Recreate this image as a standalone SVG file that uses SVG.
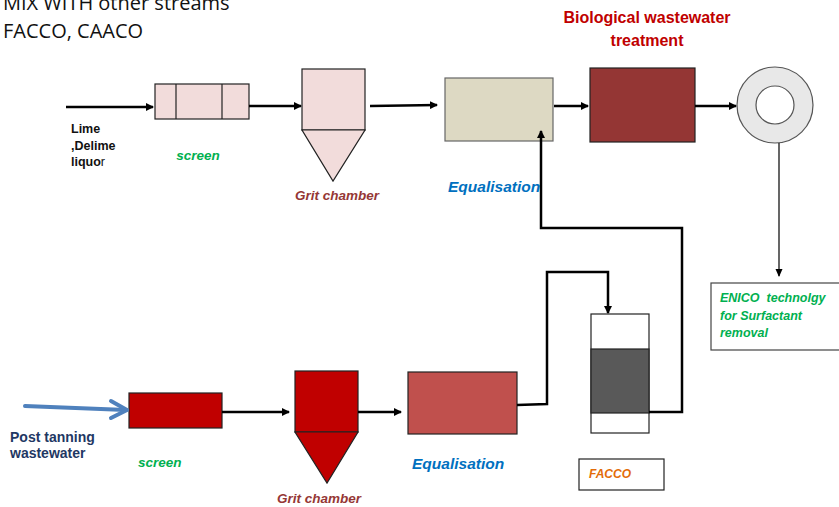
<svg xmlns="http://www.w3.org/2000/svg" width="839" height="507" viewBox="0 0 839 507">
<defs>
<marker id="ah" markerWidth="8" markerHeight="8" refX="7" refY="4" orient="auto" markerUnits="userSpaceOnUse">
<path d="M0,0 L8,4 L0,8 Z" fill="#000"/>
</marker>
<marker id="ahs" markerWidth="8" markerHeight="8" refX="7" refY="4" orient="auto" markerUnits="userSpaceOnUse">
<path d="M0,0.5 L8,4 L0,7.5 Z" fill="#000"/>
</marker>
</defs>
<style>
text{font-family:"Liberation Sans",Arial,sans-serif}
.title{font-family:"Open Sans","Liberation Sans",sans-serif;font-size:20px;fill:#111}
.lbl{font-weight:bold;font-style:italic;font-size:13.5px}
.green{fill:#00B050}
.grit{fill:#953735}
.eq{fill:#0070C0;font-size:15.5px}
.flow{fill:none;stroke:#000;stroke-width:2.5}
.thin{fill:none;stroke:#000;stroke-width:1.2}
.box{stroke:#222;stroke-width:1.2}
</style>
<rect width="839" height="507" fill="#fff"/>
<g id="title">
<text class="title" x="3" y="10">MIX WITH other streams</text>
<text class="title" x="3" y="38">FACCO, CAACO</text>
</g>
<g id="bio-label">
<text x="647" y="23" text-anchor="middle" font-weight="bold" font-size="16" fill="#C00000">Biological wastewater</text>
<text x="647" y="46" text-anchor="middle" font-weight="bold" font-size="16" fill="#C00000">treatment</text>
</g>
<g id="lime-label">
<text x="71" y="133" font-weight="bold" font-size="12.5" fill="#111">Lime</text>
<text x="71" y="150" font-weight="bold" font-size="12.5" fill="#111">,Delime</text>
<text x="71" y="166" font-weight="bold" font-size="12.5" fill="#111">liquo<tspan font-weight="normal">r</tspan></text>
</g>
<g id="screen1">
<rect class="box" x="155" y="84" width="94" height="35" fill="#F2DCDB"/>
<line class="box" x1="176" y1="84" x2="176" y2="119"/>
<line class="box" x1="222" y1="84" x2="222" y2="119"/>
<text class="lbl green" x="198" y="160" text-anchor="middle">screen</text>
</g>
<g id="grit1">
<rect class="box" x="302" y="69" width="63" height="61" fill="#F2DCDB"/>
<polygon class="box" points="302,130 365,130 333,181" fill="#F2DCDB"/>
<text class="lbl grit" x="295" y="200">Grit chamber</text>
</g>
<g id="eq1">
<rect x="445" y="78" width="108" height="63" fill="#DDD9C3" stroke="#666" stroke-width="1.2"/>
<text class="lbl eq" x="448" y="192">Equalisation</text>
</g>
<g id="bio">
<rect class="box" x="590" y="68" width="105" height="74" fill="#943634"/>
</g>
<g id="clarifier">
<circle cx="775" cy="105" r="38" fill="#E8E8E8" stroke="#555" stroke-width="1.2"/>
<circle cx="775" cy="105" r="19" fill="#fff" stroke="#555" stroke-width="1.2"/>
</g>
<g id="enico">
<rect x="711" y="283" width="135" height="67" fill="#fff" stroke="#444" stroke-width="1.2"/>
<text class="green" x="720" y="302" font-weight="bold" font-style="italic" font-size="12.5" xml:space="preserve">ENICO  technolgy</text>
<text class="green" x="720" y="320" font-weight="bold" font-style="italic" font-size="12.5">for Surfactant</text>
<text class="green" x="720" y="337" font-weight="bold" font-style="italic" font-size="12.5">removal</text>
</g>
<g id="post-tanning-label">
<text x="10" y="442" font-weight="bold" font-size="14" fill="#1F3864">Post tanning</text>
<text x="10" y="458" font-weight="bold" font-size="14" fill="#1F3864">wastewater</text>
</g>
<g id="screen2">
<rect class="box" x="129" y="393" width="93" height="35" fill="#C00000"/>
<text class="lbl green" x="138" y="467">screen</text>
</g>
<g id="grit2">
<rect class="box" x="295" y="371" width="63" height="61" fill="#C00000"/>
<polygon class="box" points="295,432 358,432 327,483" fill="#C00000"/>
<text class="lbl grit" x="277" y="503">Grit chamber</text>
</g>
<g id="eq2">
<rect class="box" x="408" y="372" width="109" height="62" fill="#C0504D"/>
<text class="lbl eq" x="412" y="469">Equalisation</text>
</g>
<g id="facco-column">
<rect class="box" x="591" y="314" width="58" height="119" fill="#fff"/>
<rect class="box" x="591" y="349" width="58" height="64" fill="#595959"/>
</g>
<g id="facco-label">
<rect x="579" y="459" width="85" height="31" fill="#fff" stroke="#222" stroke-width="1.2"/>
<text x="589" y="478" font-weight="bold" font-style="italic" font-size="12" fill="#E36C09">FACCO</text>
</g>
<g id="connectors">
<line class="flow" x1="66" y1="107" x2="153" y2="107" marker-end="url(#ah)"/>
<line class="flow" x1="249" y1="106" x2="301" y2="106" marker-end="url(#ah)"/>
<line class="flow" x1="370" y1="106" x2="437" y2="105" marker-end="url(#ah)"/>
<line class="flow" x1="554" y1="106" x2="588" y2="106" marker-end="url(#ah)"/>
<line class="flow" x1="695" y1="106" x2="736" y2="106" marker-end="url(#ah)"/>
<line class="thin" x1="779" y1="143" x2="779" y2="276" marker-end="url(#ahs)"/>
<polyline class="flow" points="649,412 682,412 682,228 541,228 541,131" marker-end="url(#ah)"/>
<line class="flow" x1="222" y1="412" x2="289" y2="412" marker-end="url(#ah)"/>
<line class="flow" x1="358" y1="412" x2="401" y2="412" marker-end="url(#ah)"/>
<polyline class="flow" points="517,405 547,404 547,272 608,272 608,313" marker-end="url(#ah)"/>
<g fill="none" stroke="#4F81BD" stroke-width="4" stroke-linecap="round" stroke-linejoin="round">
<line x1="25" y1="406" x2="126" y2="410"/>
<polyline points="111,401 127,410 111,418"/>
</g>
</g>
</svg>
